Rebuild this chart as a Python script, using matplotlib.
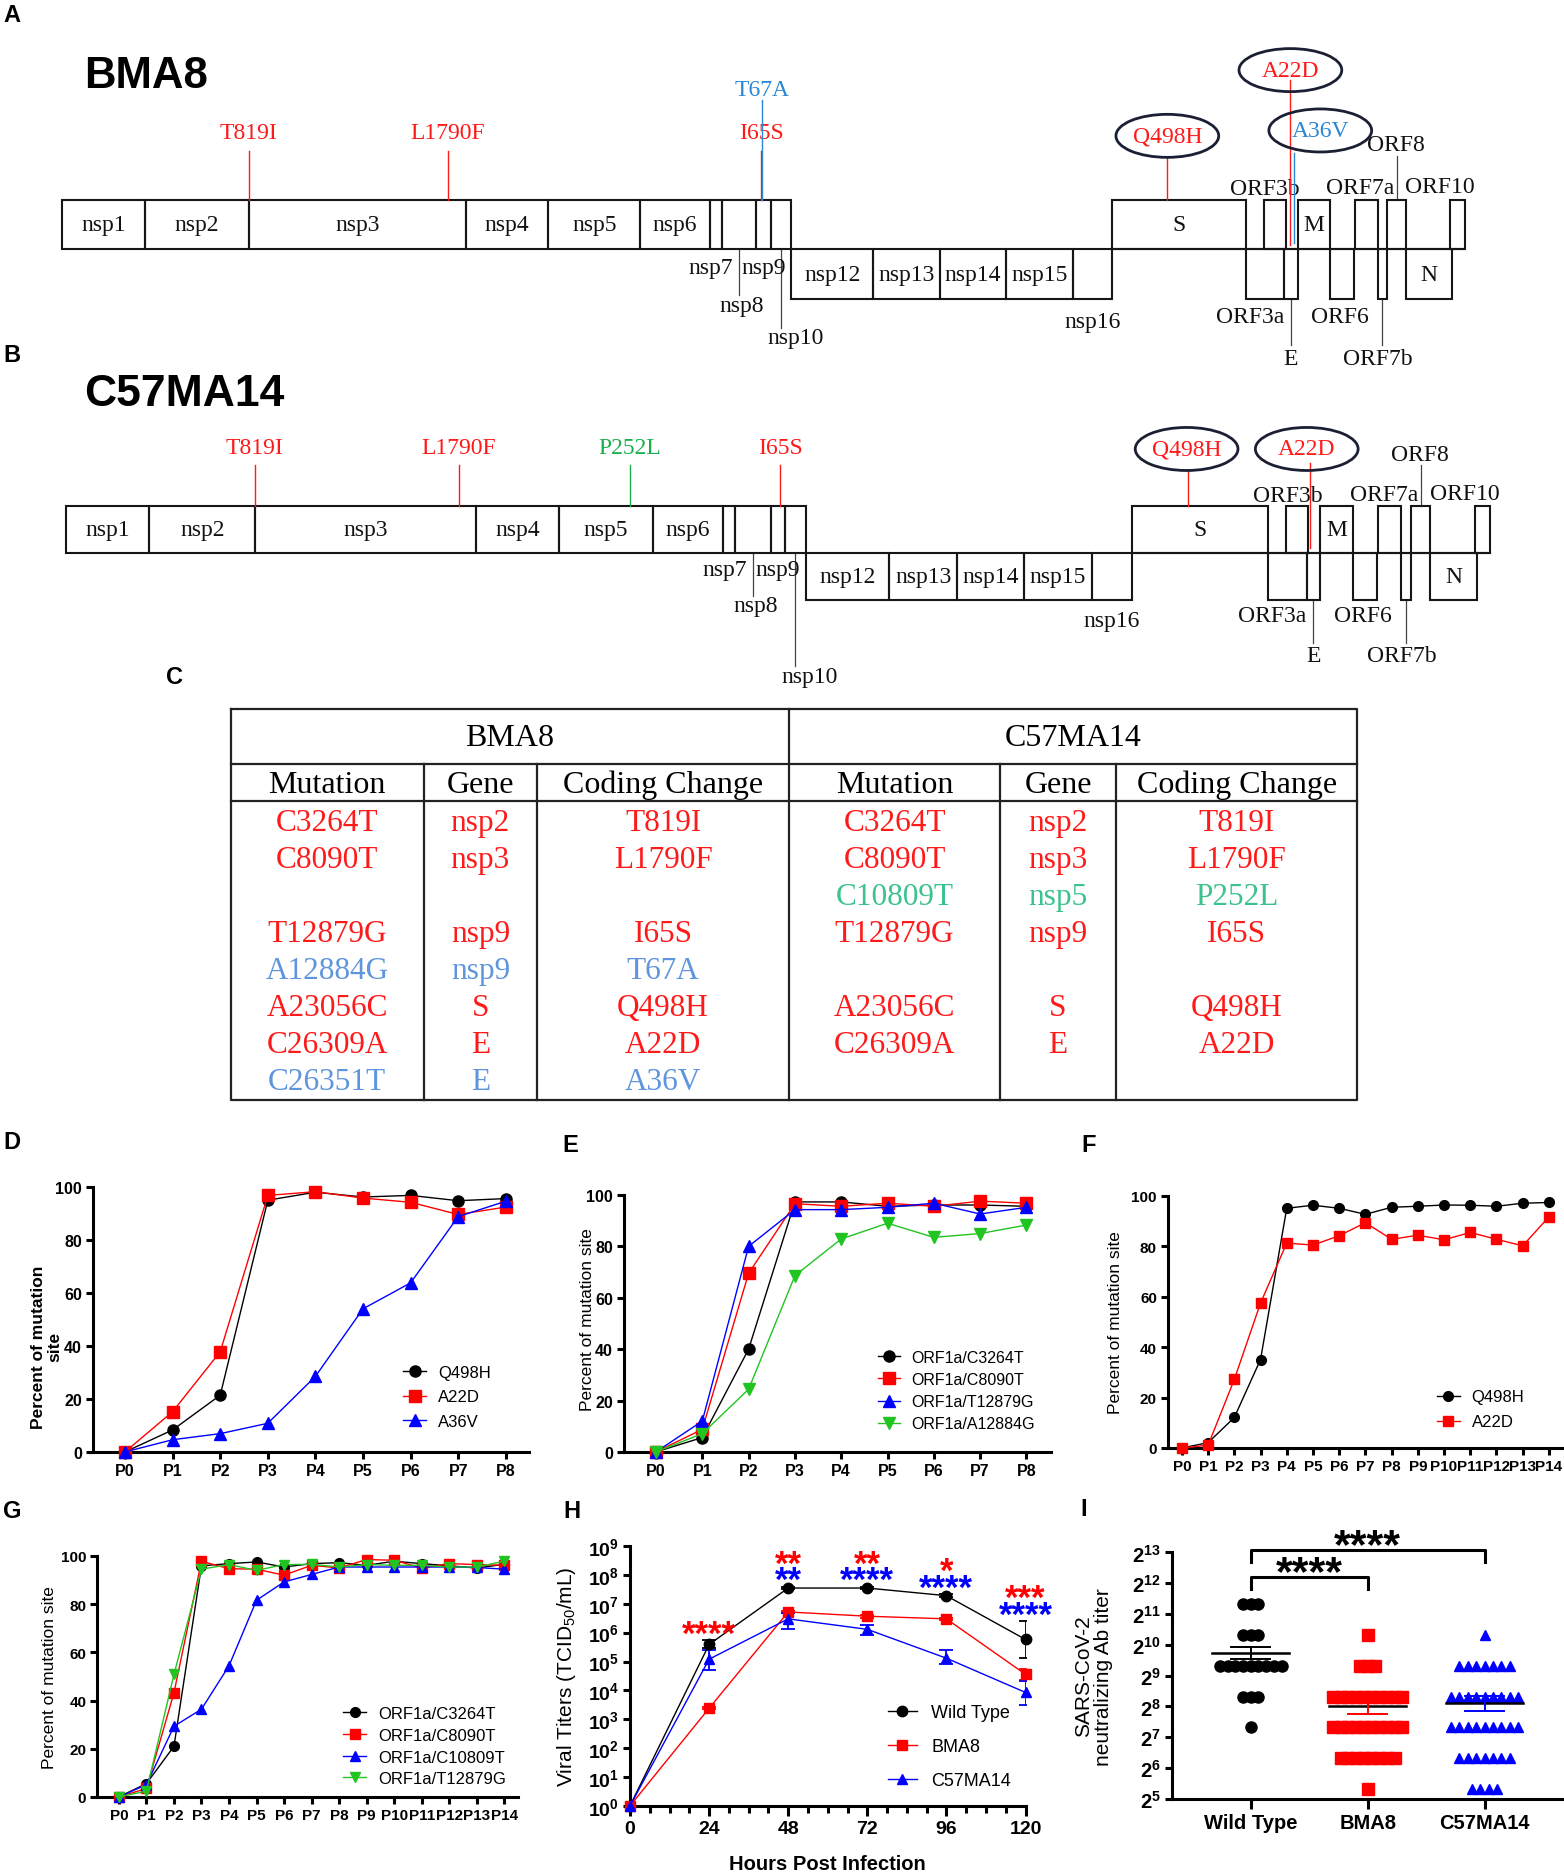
import numpy as np
import matplotlib
matplotlib.use("Agg")
import matplotlib.pyplot as plt
from matplotlib.patches import Rectangle, Ellipse
from matplotlib.ticker import NullLocator

plt.rcParams["font.family"] = ["Liberation Sans", "DejaVu Sans"]
plt.rcParams["mathtext.fontset"] = "custom"
plt.rcParams["mathtext.rm"] = "Liberation Sans"
plt.rcParams["mathtext.bf"] = "Liberation Sans:bold"
plt.rcParams["mathtext.it"] = "Liberation Sans:italic"
SERIF = "Liberation Serif"

W, H = 1564, 1874          # output pixels
CW, CH = 1309, 1568        # canvas units used for the schematic + table

RED, BLUE, GREEN, BLACK = "#ff0000", "#0000ff", "#22c422", "#000000"
KIND_MAP = {"shared": "#ff1a1a", "bma8": "#2a86d6", "c57": "#1aaf4b"}
KIND_TAB = {"shared": "#ff1a1a", "bma8": "#5e95dc", "c57": "#3cc28c"}

# ---------------- genome map (A / B) ----------------
GENES = ["nsp1", "nsp2", "nsp3", "nsp4", "nsp5", "nsp6", "nsp7", "nsp8", "nsp9", "nsp10",
         "nsp12", "nsp13", "nsp14", "nsp15", "nsp16", "S", "ORF3a", "ORF3b", "E", "M",
         "ORF6", "ORF7a", "ORF7b", "ORF8", "N", "ORF10"]
GENE_START = [52, 121, 208, 390, 459, 536, 594, 604, 633, 645, 662, 731, 787, 842, 898,
              931, 1043, 1058, 1075, 1086, 1113, 1134, 1153, 1161, 1177, 1214]
GENE_END = [121, 208, 390, 459, 536, 594, 604, 633, 645, 662, 731, 787, 842, 898, 931,
            1043, 1075, 1076, 1086, 1113, 1133, 1153, 1161, 1177, 1215, 1226]
GENE_ROW = ["u"] * 10 + ["d"] * 5 + ["u", "d", "u", "d", "u", "d", "u", "d", "u", "d", "u"]

BMA8_MUT = ["T819I", "L1790F", "I65S", "T67A", "Q498H", "A22D", "A36V"]
BMA8_MUT_POS = [208, 375, 637, 638, 977, 1080, 1083]
BMA8_MUT_KIND = ["shared", "shared", "shared", "bma8", "shared", "shared", "bma8"]
C57_MUT = ["T819I", "L1790F", "P252L", "I65S", "Q498H", "A22D"]
C57_MUT_POS = [208, 376, 517, 641, 977, 1078]
C57_MUT_KIND = ["shared", "shared", "c57", "shared", "shared", "shared"]

# ---------------- table (C) ----------------
TAB_HEAD = ["Mutation", "Gene", "Coding Change"]
BMA8_TAB_MUT = ["C3264T", "C8090T", "", "T12879G", "A12884G", "A23056C", "C26309A", "C26351T"]
BMA8_TAB_GENE = ["nsp2", "nsp3", "", "nsp9", "nsp9", "S", "E", "E"]
BMA8_TAB_AA = ["T819I", "L1790F", "", "I65S", "T67A", "Q498H", "A22D", "A36V"]
BMA8_TAB_KIND = ["shared", "shared", "", "shared", "bma8", "shared", "shared", "bma8"]
C57_TAB_MUT = ["C3264T", "C8090T", "C10809T", "T12879G", "", "A23056C", "C26309A", ""]
C57_TAB_GENE = ["nsp2", "nsp3", "nsp5", "nsp9", "", "S", "E", ""]
C57_TAB_AA = ["T819I", "L1790F", "P252L", "I65S", "", "Q498H", "A22D", ""]
C57_TAB_KIND = ["shared", "shared", "c57", "shared", "", "shared", "shared", ""]

# ---------------- D-G passage curves ----------------
PASS8 = ["P0", "P1", "P2", "P3", "P4", "P5", "P6", "P7", "P8"]
PASS14 = ["P0", "P1", "P2", "P3", "P4", "P5", "P6", "P7", "P8", "P9", "P10", "P11",
          "P12", "P13", "P14"]

D_NAMES = ["Q498H", "A22D", "A36V"]
D_Q498H = [0, 8.3, 21.4, 95, 98, 96.2, 96.8, 94.8, 95.6]
D_A22D = [0, 15.2, 37.8, 96.8, 98.2, 95.8, 94.2, 89.6, 92.4]
D_A36V = [0, 4.6, 6.9, 10.8, 28.5, 54, 63.8, 88.8, 94.6]

E_NAMES = ["ORF1a/C3264T", "ORF1a/C8090T", "ORF1a/T12879G", "ORF1a/A12884G"]
E_C3264T = [0, 5.6, 40, 97.3, 97.3, 95.6, 96.1, 96.1, 95.6]
E_C8090T = [0, 8.8, 69.5, 96.6, 95.6, 96.8, 95.6, 97.6, 96.8]
E_T12879G = [0, 12, 80, 94.3, 94.3, 95.2, 96.8, 92.6, 95.2]
E_A12884G = [0, 7.1, 24.4, 68.6, 82.9, 89, 83.5, 85, 88.3]

F_NAMES = ["Q498H", "A22D"]
F_Q498H = [0, 2.1, 12.1, 35.1, 95.1, 96.3, 95.1, 92.7, 95.5, 95.9, 96.4, 96.3, 95.9, 97.1, 97.4]
F_A22D = [0, 1.1, 27.2, 57.5, 81.3, 80.5, 84.2, 89.4, 82.8, 84.4, 82.6, 85.5, 82.8, 80.2, 91.7]

G_NAMES = ["ORF1a/C3264T", "ORF1a/C8090T", "ORF1a/C10809T", "ORF1a/T12879G"]
G_C3264T = [0, 5.5, 21, 95.9, 96.8, 97.5, 95.4, 96.8, 97.2, 96.1, 97.8, 96.8, 95.9, 95, 96.5]
G_C8090T = [0, 3.5, 43.2, 97.8, 94.7, 94.5, 92, 96.1, 95, 98.5, 98.2, 95, 96.8, 96.4, 96.1]
G_C10809T = [0, 5.1, 29.3, 36.4, 54.4, 81.6, 89.2, 92.3, 95.4, 95.4, 95.4, 95.4, 95.4, 95.2, 94.5]
G_T12879G = [0, 2.4, 50.8, 94.5, 96.4, 94, 96.4, 96.5, 95.4, 96.4, 96.1, 96.1, 95.4, 95.4, 97.8]

# ---------------- H growth curves ----------------
H_HOURS = [0, 24, 48, 72, 96, 120]
H_NAMES = ["Wild Type", "BMA8", "C57MA14"]
H_WT = [1, 3.9e5, 3.5e7, 3.5e7, 1.9e7, 5.8e5]
H_WT_LO = [1, 2.9e5, 3.2e7, 3.2e7, 1.7e7, 1.3e5]
H_WT_HI = [1, 5.4e5, 3.8e7, 3.8e7, 2.1e7, 2.5e6]
H_BMA8 = [1, 2.4e3, 5.2e6, 3.7e6, 3.0e6, 3.6e4]
H_BMA8_LO = [1, 2.2e3, 4.6e6, 3.3e6, 2.7e6, 2.3e4]
H_BMA8_HI = [1, 2.6e3, 5.8e6, 4.1e6, 3.3e6, 5.4e4]
H_C57 = [1, 1.2e5, 3.0e6, 1.3e6, 1.3e5, 8.5e3]
H_C57_LO = [1, 5.0e4, 1.3e6, 8.0e5, 8.0e4, 3.2e3]
H_C57_HI = [1, 2.5e5, 4.6e6, 1.8e6, 2.5e5, 2.1e4]
H_SIG_BMA8 = ["", "****", "**", "**", "*", "***"]
H_SIG_C57 = ["", "", "**", "****", "****", "****"]

# ---------------- I neutralizing titers ----------------
I_GROUPS = ["Wild Type", "BMA8", "C57MA14"]
I_TITERS = [2560, 1280, 640, 320, 160, 80, 40]
I_WT_N = [3, 3, 9, 3, 1, 0, 0]
I_BMA8_N = [0, 1, 3, 10, 10, 8, 1]
I_C57_N = [0, 1, 7, 9, 9, 7, 4]
I_MEAN = [861, 260, 276]
I_SEM_LO = [739, 215, 232]
I_SEM_HI = [982, 304, 326]
I_BRACKETS = [(0, 1, "****"), (0, 2, "****")]


fig = plt.figure(figsize=(W / 100, H / 100), dpi=100)
cv = fig.add_axes([0, 0, 1, 1], zorder=0)
cv.set_xlim(0, CW)
cv.set_ylim(CH, 0)
cv.axis("off")

# labels of genes too small to hold their name: dx, dy from baseline, leader end
OUTSIDE = {
    "nsp7": (-4, 15, None), "nsp9": (0, 15, None), "nsp8": (2, 47, 38),
    "nsp16": (0, 60, None), "ORF3a": (-13, 56, None), "E": (0, 91, 80),
    "ORF6": (-2, 56, None), "ORF7b": (-4, 91, 80),
    "ORF3b": (-8, -51, None), "ORF7a": (-5, -52, None), "ORF10": (-15, -53, None),
    "ORF8": (-1, -88, -78),
}
EDGE = "#161616"
GENE_FS = 17


def draw_genome(sx, ox, yb, h, nsp10_dy):
    k = h / 41.5
    for name, g0, g1, row in zip(GENES, GENE_START, GENE_END, GENE_ROW):
        x0, x1 = sx * g0 + ox, sx * g1 + ox
        top = yb - h if row == "u" else yb
        cv.add_patch(Rectangle((x0, top), x1 - x0, h, fill=False, ec=EDGE, lw=1.5, zorder=2))
        xc = 0.5 * (x0 + x1)
        if name == "nsp10":
            spec = (12, nsp10_dy, nsp10_dy - 8)
        elif name in OUTSIDE:
            dx, dy, le = OUTSIDE[name]
            spec = (dx, dy * k, None if le is None else le * k)
        else:
            cv.text(xc, top + h / 2, name, ha="center", va="center", family=SERIF,
                    fontsize=GENE_FS, color="#111111")
            continue
        dx, dy, le = spec
        if le is not None:
            if dy > 0:
                y0 = yb + (h if row == "d" else 0)
            else:
                y0 = yb - h
            cv.plot([xc, xc], [y0, yb + le], color="#444444", lw=0.9, zorder=1)
        cv.text(xc + dx, yb + dy, name, ha="center", va="center", family=SERIF,
                fontsize=GENE_FS, color="#111111")
    s0 = GENE_START[GENES.index("S")]
    s1 = GENE_END[GENES.index("ORF10")]
    cv.plot([sx * s0 + ox, sx * s1 + ox], [yb, yb], color=EDGE, lw=1.5, zorder=2)


def draw_mutations(names, pos, kinds, sx, ox, yb, h, lab_dy, line_dy, special):
    for name, g, kind in zip(names, pos, kinds):
        x = sx * g + ox
        col = KIND_MAP[kind]
        if name in special:
            dx, dy, l0, l1, ell = special[name]
            y_end = yb - h if l1 is None else yb + l1
            cv.plot([x, x], [yb + l0, y_end], color=col, lw=1.0, zorder=3)
            if ell:
                cv.add_patch(Ellipse((x + dx, yb + dy), 86, 36, fill=False, ec="#1b1f33",
                                     lw=2.0, zorder=4))
            cv.text(x + dx, yb + dy, name, ha="center", va="center", family=SERIF,
                    fontsize=17, color=col, zorder=5)
        else:
            cv.text(x, yb + lab_dy, name, ha="center", va="center", family=SERIF,
                    fontsize=17, color=col)
            cv.plot([x, x], [yb + line_dy, yb - h], color=col, lw=1.0, zorder=3)


# Panel A
draw_genome(1.0, 0.0, 209.5, 41.5, 74)
draw_mutations(BMA8_MUT, BMA8_MUT_POS, BMA8_MUT_KIND, 1.0, 0.0, 209.5, 41.5, -98, -82, {
    "T67A": (0, -134, -125, None, False),
    "Q498H": (0, -95, -77, None, True),
    "A22D": (0, -150, -142, -4, True),
    "A36V": (22, -99.5, -81, -5, True),
})
cv.text(70, 74, "BMA8", ha="left", va="baseline", fontsize=31.5, fontweight="bold")

# Panel B
draw_genome(1.0153, 2.2, 463.5, 39.0, 103)
draw_mutations(C57_MUT, C57_MUT_POS, C57_MUT_KIND, 1.0153, 2.2, 463.5, 39.0, -88, -74, {
    "Q498H": (-1, -87, -69, None, True),
    "A22D": (-3, -87, -75, -4, True),
})
cv.text(70, 340, "C57MA14", ha="left", va="baseline", fontsize=32, fontweight="bold")

# Panel C table
TX = [193, 354.5, 449.5, 660.5, 837, 934, 1136]
TY = [594, 640, 671, 921]
tl = dict(color="#222222", lw=1.6)
cv.plot([TX[0], TX[-1], TX[-1], TX[0], TX[0]], [TY[0], TY[0], TY[3], TY[3], TY[0]], **tl)
for yy in TY[1:3]:
    cv.plot([TX[0], TX[-1]], [yy, yy], **tl)
cv.plot([TX[3], TX[3]], [TY[0], TY[3]], **tl)
for xx in (TX[1], TX[2], TX[4], TX[5]):
    cv.plot([xx, xx], [TY[1], TY[3]], **tl)
cv.text((TX[0] + TX[3]) / 2, 618, "BMA8", ha="center", va="center", family=SERIF, fontsize=23)
cv.text((TX[3] + TX[6]) / 2, 618, "C57MA14", ha="center", va="center", family=SERIF, fontsize=23)
for side, cols in ((0, (BMA8_TAB_MUT, BMA8_TAB_GENE, BMA8_TAB_AA, BMA8_TAB_KIND)),
                   (3, (C57_TAB_MUT, C57_TAB_GENE, C57_TAB_AA, C57_TAB_KIND))):
    for j, head in enumerate(TAB_HEAD):
        xc = (TX[side + j] + TX[side + j + 1]) / 2
        cv.text(xc, 657, head, ha="center", va="center", family=SERIF, fontsize=23)
        for i, (txt, kind) in enumerate(zip(cols[j], cols[3])):
            if txt:
                cv.text(xc, 689 + 31 * i, txt, ha="center", va="center", family=SERIF,
                        fontsize=22.5, color=KIND_TAB[kind])

# panel letters
for L, x, y in [("A", 3, 15), ("B", 3, 356), ("C", 166, 677), ("D", 3, 1143),
                ("E", 562, 1145), ("F", 1081, 1145), ("G", 3, 1512), ("H", 563, 1512),
                ("I", 1080, 1510)]:
    fig.text(x / W, 1 - y / H, L, fontsize=17, fontweight="bold", ha="left", va="center")


def gp_style(ax, fs, lw=2.2):
    for s in ("top", "right"):
        ax.spines[s].set_visible(False)
    for s in ("left", "bottom"):
        ax.spines[s].set_linewidth(lw)
    ax.tick_params(which="both", direction="out", width=lw, length=5, labelsize=fs, pad=3)
    for t in ax.get_xticklabels() + ax.get_yticklabels():
        t.set_fontweight("bold")


def passage_panel(rect, xlabels, series, names, colors, markers, xlim, ylabel, ybold,
                  ylab_at, leg_at, ms, leg_fs, labsp, tick_fs):
    ax = fig.add_axes(rect)
    x = np.arange(len(xlabels))
    for y, nm, c, m in zip(series, names, colors, markers):
        ax.plot(x, y, color=c, marker=m, ms=ms, lw=1.0, label=nm, clip_on=False, zorder=3)
    ax.set_xlim(*xlim)
    ax.set_ylim(0, 100)
    ax.set_xticks(x)
    ax.set_xticklabels(xlabels)
    ax.set_yticks([0, 20, 40, 60, 80, 100])
    gp_style(ax, tick_fs)
    ax.set_ylabel(ylabel, fontsize=12.5, fontweight="bold" if ybold else "normal",
                  linespacing=1.05)
    ax.yaxis.set_label_coords(*ylab_at)
    ax.legend(loc="center left", bbox_to_anchor=leg_at, frameon=False, fontsize=leg_fs,
              handlelength=1.4, handletextpad=0.7, labelspacing=labsp, borderpad=0,
              borderaxespad=0)
    return ax


passage_panel([0.0595, 0.2247, 0.2788, 0.1414], PASS8, [D_Q498H, D_A22D, D_A36V], D_NAMES,
              [BLACK, RED, BLUE], ["o", "s", "^"], (-0.672, 8.49),
              "Percent of mutation\nsite", True, (-0.071, 0.40), (0.711, 0.2075), 8, 12, 0.55,
              11.5)
passage_panel([0.399, 0.2247, 0.273, 0.1371], PASS8, [E_C3264T, E_C8090T, E_T12879G, E_A12884G],
              E_NAMES, [BLACK, RED, BLUE, GREEN], ["o", "s", "^", "v"], (-0.69, 8.53),
              "Percent of mutation site", False, (-0.068, 0.52), (0.594, 0.239), 8, 11.5, 0.45,
              11.5)
passage_panel([0.7468, 0.2268, 0.2526, 0.1345], PASS14, [F_Q498H, F_A22D], F_NAMES,
              [BLACK, RED], ["o", "s"], (-0.53, 14.54),
              "Percent of mutation site", False, (-0.114, 0.50), (0.68, 0.153), 7, 12, 0.6, 11)
passage_panel([0.0623, 0.0406, 0.2689, 0.1286], PASS14,
              [G_C3264T, G_C8090T, G_C10809T, G_T12879G], G_NAMES,
              [BLACK, RED, BLUE, GREEN], ["o", "s", "^", "v"], (-0.78, 14.5),
              "Percent of mutation site", False, (-0.096, 0.50), (0.584, 0.21), 7, 12, 0.4, 11)

# ---------------- H ----------------
axh = fig.add_axes([0.4028, 0.0358, 0.2529, 0.1387])
axh.set_yscale("log")
hx = np.array(H_HOURS)
for vals, lo, hi, col, mk, nm in ((H_WT, H_WT_LO, H_WT_HI, BLACK, "o", H_NAMES[0]),
                                  (H_BMA8, H_BMA8_LO, H_BMA8_HI, RED, "s", H_NAMES[1]),
                                  (H_C57, H_C57_LO, H_C57_HI, BLUE, "^", H_NAMES[2])):
    v, l, u = np.array(vals), np.array(lo), np.array(hi)
    axh.errorbar(hx, v, yerr=[v - l, u - v], fmt="none", ecolor=col, elinewidth=1.3,
                 capsize=5, capthick=1.3, zorder=2)
    axh.plot(hx, v, color=col, marker=mk, ms=7.5, lw=1.0, label=nm, clip_on=False, zorder=3)
axh.set_xlim(0, 120)
axh.set_ylim(1, 1e9)
axh.set_xticks(H_HOURS)
axh.set_xticks(np.arange(0, 121, 6), minor=True)
axh.set_yticks(10.0 ** np.arange(10))
axh.set_yticklabels([r"$\mathbf{10^{%d}}$" % k for k in range(10)])
axh.yaxis.set_minor_locator(NullLocator())
gp_style(axh, 14)
axh.tick_params(axis="x", which="major", length=7)
axh.tick_params(axis="x", which="minor", length=5)
axh.set_ylabel(r"Viral Titers (TCID$_{50}$/mL)", fontsize=15)
axh.yaxis.set_label_coords(-0.131, 0.5)
axh.set_xlabel("Hours Post Infection", fontsize=14.5, fontweight="bold")
axh.xaxis.set_label_coords(0.5, -0.185)
axh.legend(loc="center left", bbox_to_anchor=(0.652, 0.228), frameon=False, fontsize=13,
           handlelength=1.6, handletextpad=0.8, labelspacing=0.95, borderpad=0,
           borderaxespad=0)
for hr, top, sb, sc in zip(H_HOURS, H_WT_HI, H_SIG_BMA8, H_SIG_C57):
    rows = [(t, c) for t, c in ((sc, BLUE), (sb, RED)) if t]
    for r, (txt, col) in enumerate(rows):
        axh.annotate(txt, xy=(hr, top * 10 ** (0.6 + 0.57 * r)), xytext=(0, -8),
                     textcoords="offset points", ha="center", va="center", fontsize=25,
                     fontweight="bold", color=col, annotation_clip=False)

# ---------------- I ----------------
axi = fig.add_axes([0.7492, 0.0395, 0.2508, 0.1316])
axi.set_yscale("log", base=2)
for gi, (counts, col, mk, ms, sp) in enumerate(((I_WT_N, BLACK, "o", 8, 0.066),
                                                (I_BMA8_N, RED, "s", 8, 0.066),
                                                (I_C57_N, BLUE, "^", 6.5, 0.072))):
    xs, ys = [], []
    for t, n in zip(I_TITERS, counts):
        off = (np.arange(n) - (n - 1) / 2.0) * sp
        xs += list(gi + off)
        ys += [t] * n
    axi.plot(xs, ys, ls="none", marker=mk, ms=ms, color=col, mec=col, clip_on=False, zorder=3)
    axi.plot([gi - 0.33, gi + 0.33], [I_MEAN[gi]] * 2, color=BLACK, lw=1.8, zorder=4)
    axi.plot([gi, gi], [I_SEM_LO[gi], I_SEM_HI[gi]], color=col, lw=1.4, zorder=4)
    for yv in (I_SEM_LO[gi], I_SEM_HI[gi]):
        axi.plot([gi - 0.165, gi + 0.165], [yv, yv], color=col, lw=1.4, zorder=4)
axi.set_xlim(-0.676, 2.68)
axi.set_ylim(2 ** 5, 2 ** 13)
axi.set_yticks(2.0 ** np.arange(5, 14))
axi.set_yticklabels([r"$\mathbf{2^{%d}}$" % k for k in range(5, 14)])
axi.yaxis.set_minor_locator(NullLocator())
axi.set_xticks([0, 1, 2])
axi.set_xticklabels(I_GROUPS)
gp_style(axi, 14.5)
axi.tick_params(axis="x", length=7)
axi.set_ylabel("SARS-CoV-2\nneutralizing Ab titer", fontsize=15, linespacing=1.05)
axi.yaxis.set_label_coords(-0.15, 0.5)
ybr = max(I_TITERS) * 2 ** 0.87
for a, b, txt in I_BRACKETS:
    axi.plot([a, a, b, b], [ybr / 2 ** 0.38, ybr, ybr, ybr / 2 ** 0.38], color=BLACK,
             lw=2.2, clip_on=False, zorder=4)
    axi.annotate(txt, xy=((a + b) / 2, ybr), xytext=(0, 3), textcoords="offset points",
                 ha="center", va="center", fontsize=31, fontweight="bold",
                 annotation_clip=False)
    ybr *= 2 ** 0.89

fig.savefig("out.png", dpi=100)
